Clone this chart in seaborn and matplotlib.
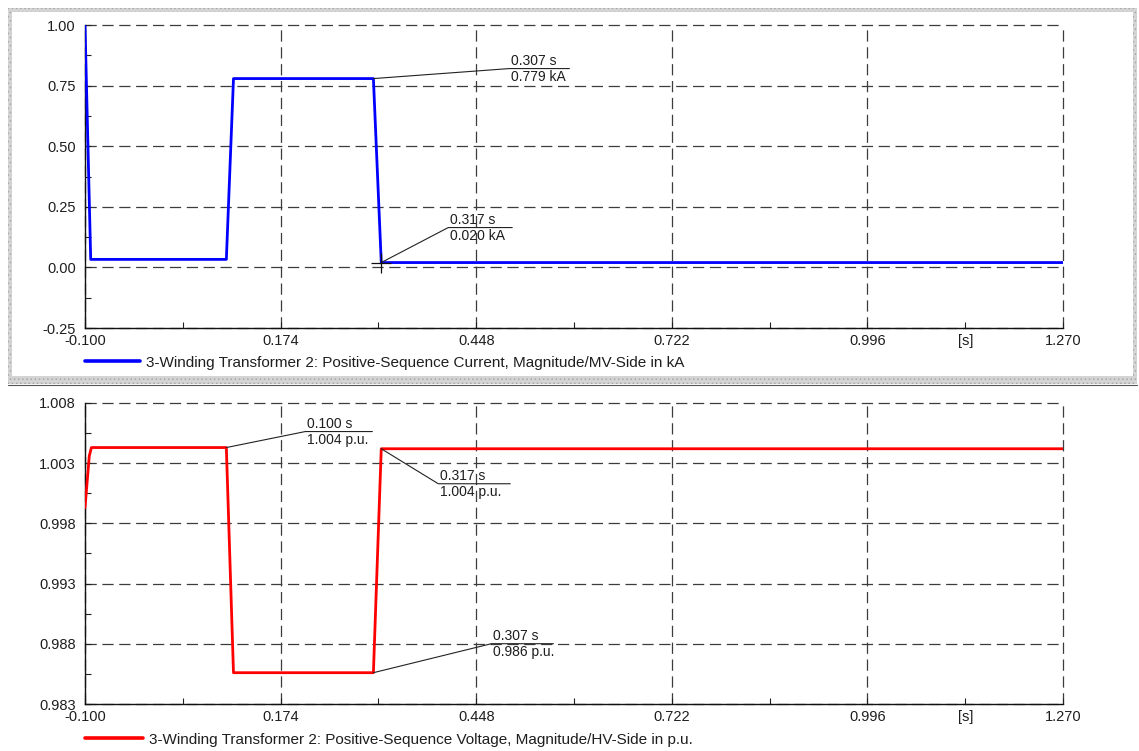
import matplotlib
matplotlib.use("Agg")
import matplotlib.pyplot as plt
import seaborn as sns
import pandas as pd
from matplotlib.lines import Line2D
from matplotlib.patches import Rectangle
from matplotlib.transforms import IdentityTransform
from matplotlib.ticker import FixedLocator, FixedFormatter

# ---------------- data ----------------
t_current = [-0.100, -0.092, 0.098, 0.108, 0.304, 0.315, 1.270]
current_kA = [1.000, 0.033, 0.033, 0.779, 0.779, 0.020, 0.020]

t_voltage = [-0.100, -0.094, -0.091, 0.098, 0.108, 0.304, 0.315, 1.270]
voltage_pu = [0.9993, 1.0036, 1.0043, 1.0043, 0.9856, 0.9856, 1.0042, 1.0042]

x_ticks = [-0.100, 0.174, 0.448, 0.722, 0.996, 1.270]
x_tick_labels = ["-0.100", "0.174", "0.448", "0.722", "0.996", "1.270"]
x_minor = [0.037, 0.311, 0.585, 0.859, 1.133]
x_minor_labels = ["", "", "", "", "[s]"]

y1_ticks = [-0.25, 0.00, 0.25, 0.50, 0.75, 1.00]
y1_labels = ["-0.25", "0.00", "0.25", "0.50", "0.75", "1.00"]
y1_minor = [-0.125, 0.125, 0.375, 0.625, 0.875]

y2_ticks = [0.983, 0.988, 0.993, 0.998, 1.003, 1.008]
y2_labels = ["0.983", "0.988", "0.993", "0.998", "1.003", "1.008"]
y2_minor = [0.9855, 0.9905, 0.9955, 1.0005, 1.0055]

legend_current = "3-Winding Transformer 2: Positive-Sequence Current, Magnitude/MV-Side in kA"
legend_voltage = "3-Winding Transformer 2: Positive-Sequence Voltage, Magnitude/HV-Side in p.u."

# callouts: (index into series, top text, bottom text)
current_callouts = [(4, "0.307 s", "0.779 kA"), (5, "0.317 s", "0.020 kA")]
voltage_callouts = [(3, "0.100 s", "1.004 p.u."), (6, "0.317 s", "1.004 p.u."),
                    (5, "0.307 s", "0.986 p.u.")]

# ---------------- style ----------------
sns.set_style("white")
plt.rcParams["font.family"] = ["Liberation Sans", "DejaVu Sans"]
plt.rcParams["hatch.linewidth"] = 0.6

W, H = 1139, 751
fig = plt.figure(figsize=(W / 100, H / 100), dpi=100)

# dotted selection frame around top panel
frame_kw = dict(transform=fig.transFigure, facecolor="#d4d4d4", hatch="....",
                edgecolor="#a8a8a8", linewidth=0)
def px_rect(x0, y0, x1, y1):
    return Rectangle((x0 / W, 1 - y1 / H), (x1 - x0) / W, (y1 - y0) / H, **frame_kw)
for r in [px_rect(8, 8, 1137, 12), px_rect(8, 8, 12, 384), px_rect(1133, 8, 1137, 384),
          px_rect(8, 376, 1137, 384)]:
    fig.patches.append(r)
fig.lines.append(Line2D([8 / W, 1137 / W], [1 - 385 / H, 1 - 385 / H],
                        transform=fig.transFigure, color="#555555", lw=0.8))

ax1 = fig.add_axes([85 / W, 1 - 328 / H, 978 / W, 303 / H])
ax2 = fig.add_axes([85 / W, 1 - 704 / H, 978 / W, 301 / H])

df_i = pd.DataFrame({"t": t_current, "v": current_kA})
df_u = pd.DataFrame({"t": t_voltage, "v": voltage_pu})

sns.lineplot(data=df_i, x="t", y="v", ax=ax1, color="#0000ff", lw=2.0,
             estimator=None, sort=False, label=legend_current, zorder=5)
sns.lineplot(data=df_u, x="t", y="v", ax=ax2, color="#ff0000", lw=2.0,
             estimator=None, sort=False, label=legend_voltage, zorder=5)

txt_color = "#1e1e1e"
TICK_FS = 10.5
for ax, yt, yl, ym, lim in [(ax1, y1_ticks, y1_labels, y1_minor, (-0.25, 1.00)),
                             (ax2, y2_ticks, y2_labels, y2_minor, (0.983, 1.008))]:
    ax.set_facecolor("white")
    ax.set_xlim(-0.100, 1.270)
    ax.set_ylim(*lim)
    ax.set_xlabel("")
    ax.set_ylabel("")
    ax.xaxis.set_major_locator(FixedLocator(x_ticks))
    ax.xaxis.set_major_formatter(FixedFormatter(x_tick_labels))
    ax.xaxis.set_minor_locator(FixedLocator(x_minor))
    ax.xaxis.set_minor_formatter(FixedFormatter(x_minor_labels))
    ax.yaxis.set_major_locator(FixedLocator(yt))
    ax.yaxis.set_major_formatter(FixedFormatter(yl))
    ax.yaxis.set_minor_locator(FixedLocator(ym))
    ax.tick_params(axis="both", which="both", direction="in", length=4.5, width=0.8,
                   colors="#222222", labelcolor=txt_color, labelsize=TICK_FS,
                   top=False, right=False, left=True, bottom=True)
    ax.tick_params(axis="x", which="both", pad=4.5)
    ax.tick_params(axis="y", which="both", pad=6.5)
    ax.grid(True, which="major", color="#3c3c3c", lw=0.9, linestyle=(0, (9, 4.5)))
    for gl in ax.get_xgridlines() + ax.get_ygridlines():
        gl.set_clip_on(False)
    for s in ["top", "right"]:
        ax.spines[s].set_visible(False)
    for s in ["left", "bottom"]:
        ax.spines[s].set_color("#111111")
        ax.spines[s].set_linewidth(1.0)
    ax.set_axisbelow(True)

LEG_FS = 11
ax1.legend(loc="center left", bbox_to_anchor=(0.0, -0.115), frameon=False,
           borderpad=0, borderaxespad=0, handlelength=3.6, handletextpad=0.4,
           fontsize=LEG_FS, labelcolor=txt_color)
ax2.legend(loc="center left", bbox_to_anchor=(0.0, -0.118), frameon=False,
           borderpad=0, borderaxespad=0, handlelength=3.8, handletextpad=0.4,
           fontsize=LEG_FS, labelcolor=txt_color)
for ax in (ax1, ax2):
    for ln in ax.get_legend().get_lines():
        ln.set_linewidth(2.6)

# callout geometry (pixel offsets: dx, dy up, underline width)
current_geom = [(136, 10, 60), (67, 35, 64)]
voltage_geom = [(79, 16, 67), (57, -35, 72), (118, 29, 62)]
CALL_FS = 10

def callout(ax, x, y, dx, dy, w, l1, l2):
    px, py = ax.transData.transform((x, y))
    ex, ey = px + dx, py + dy
    ax.add_line(Line2D([px, ex, ex + w], [py, ey, ey], transform=IdentityTransform(),
                       color="#222222", lw=0.8, clip_on=False, zorder=6))
    ax.text(ex + 2, ey + 1, l1, transform=IdentityTransform(), va="bottom", ha="left",
            fontsize=CALL_FS, color=txt_color, zorder=7)
    ax.text(ex + 2, ey - 1.5, l2, transform=IdentityTransform(), va="top", ha="left",
            fontsize=CALL_FS, color=txt_color, zorder=7)

for (i, a, b), (dx, dy, w) in zip(current_callouts, current_geom):
    callout(ax1, t_current[i], current_kA[i], dx, dy, w, a, b)
for (i, a, b), (dx, dy, w) in zip(voltage_callouts, voltage_geom):
    callout(ax2, t_voltage[i], voltage_pu[i], dx, dy, w, a, b)

# cursor cross at active point
ax1.plot([t_current[5]], [current_kA[5]], marker="+", markersize=15, mew=0.9,
         color="#111111", zorder=8, clip_on=False)

fig.savefig("out.png", dpi=100)
